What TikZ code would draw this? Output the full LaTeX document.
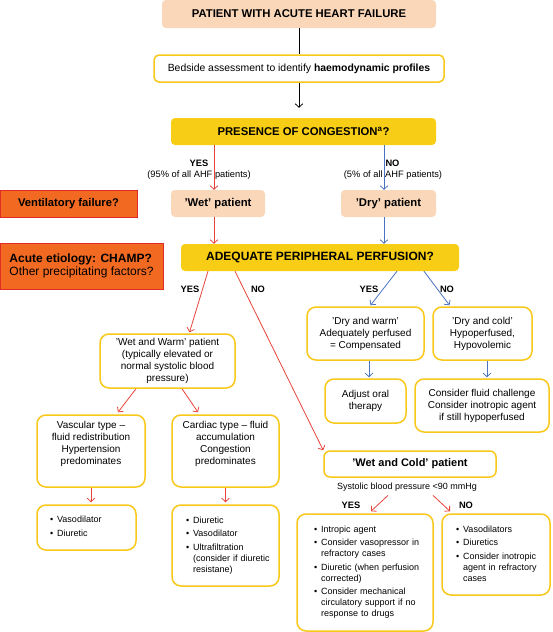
\documentclass[tikz,border=0pt]{standalone}
\usepackage{fontspec}
\setmainfont{Liberation Sans}
\usetikzlibrary{arrows.meta,calc}

\definecolor{peach}{RGB}{251,215,186}
\definecolor{gold}{RGB}{248,205,21}
\definecolor{frame}{RGB}{248,200,26}
\definecolor{alert}{RGB}{242,106,34}
\definecolor{alertline}{RGB}{227,43,37}
\definecolor{redline}{RGB}{232,67,58}
\definecolor{blueline}{RGB}{74,114,192}

\newenvironment{bulletlist}{\begin{tabular}{@{}l@{\hspace{4pt}}l@{}}}{\end{tabular}}

\begin{document}
\begin{tikzpicture}[x=1pt,y=-1pt,>={Straight Barb[length=3.5pt,width=7.5pt]},
    peach node/.style={fill=peach,rounded corners=4pt,inner sep=0pt,font=\fontsize{11.3}{13}\selectfont\bfseries},
    gold node/.style={fill=gold,rounded corners=4pt,inner sep=0pt,font=\fontsize{11.3}{13}\selectfont\bfseries},
    alert node/.style={fill=alert,draw=alertline,line width=1pt,inner sep=0pt,font=\fontsize{11.2}{13}\selectfont\bfseries},
    white node/.style={fill=white,draw=frame,line width=1.5pt,rounded corners=9pt,inner sep=0pt,align=center,font=\fontsize{10}{12}\selectfont},
    list node/.style={white node,align=left,font=\fontsize{9}{11}\selectfont},
    answer text/.style={inner sep=0pt,font=\fontsize{9.3}{11}\selectfont\bfseries},
    note text/.style={inner sep=0pt,font=\fontsize{9.3}{11}\selectfont},
    red arrow/.style={->,draw=redline,line width=0.8pt},
    blue arrow/.style={->,draw=blueline,line width=0.8pt}]

    \useasboundingbox (0,0) rectangle (552,632);

    % top of the chart
    \node[peach node, minimum width=274pt, minimum height=28pt] (heart) at (299,14) {PATIENT WITH ACUTE HEART FAILURE};
    \node[white node, rounded corners=5pt, minimum width=290pt, minimum height=27pt, font=\fontsize{10.4}{12}\selectfont] (bedside) at (299,68.5) {Bedside assessment to identify \textbf{haemodynamic profiles}};
    \node[gold node, minimum width=265pt, minimum height=27pt] (congestion) at (303.5,131.5) {PRESENCE OF CONGESTION\textsuperscript{a}?};

    \node[alert node, minimum width=137pt, minimum height=27pt] (ventilatory) at (68.5,203.5) {Ventilatory failure?};
    \node[peach node, minimum width=94pt, minimum height=27pt] (wet) at (218,203.5) {'Wet' patient};
    \node[peach node, minimum width=95pt, minimum height=27pt] (dry) at (388.5,203.5) {'Dry' patient};

    \node[alert node, minimum width=163pt, minimum height=46pt, align=left, font=\fontsize{12}{13.5}\selectfont] (etiology) at (81.5,266) {\textbf{Acute etiology: CHAMP?}\\Other precipitating factors?};
    \node[gold node, minimum width=278pt, minimum height=27pt, font=\fontsize{12}{14}\selectfont\bfseries] (perfusion) at (320,257.5) {ADEQUATE PERIPHERAL PERFUSION?};

    % profiles
    \node[white node, minimum width=135pt, minimum height=54pt] (warmwet) at (167.5,361) {'Wet and Warm' patient\\(typically elevated or\\normal systolic blood\\pressure)};
    \node[white node, minimum width=117pt, minimum height=53pt] (drywarm) at (365.5,333.5) {'Dry and warm'\\Adequately perfused\\= Compensated};
    \node[white node, minimum width=99pt, minimum height=53pt] (drycold) at (482.5,333.5) {'Dry and cold'\\Hypoperfused,\\Hypovolemic};
    \node[white node, minimum width=81pt, minimum height=44pt] (oral) at (365.5,401) {Adjust oral\\therapy};
    \node[white node, minimum width=134pt, minimum height=53pt] (fluid) at (482,405.5) {Consider fluid challenge\\Consider inotropic agent\\if still hypoperfused};
    \node[white node, minimum width=108pt, minimum height=72pt] (vascular) at (91,451) {Vascular type --\\fluid redistribution\\Hypertension\\predominates\\[4pt]};
    \node[white node, minimum width=107pt, minimum height=72pt] (cardiac) at (225.5,451) {Cardiac type -- fluid\\accumulation\\Congestion\\predominates\\[4pt]};
    \node[white node, rounded corners=6pt, minimum width=172pt, minimum height=26pt, font=\fontsize{11}{13}\selectfont\bfseries] (wetcold) at (410,464) {'Wet and Cold' patient};
    \node[note text, font=\fontsize{9}{11}\selectfont] (sbp) at (407,487) {Systolic blood pressure <90 mmHg};

    % treatments
    \node[list node, minimum width=99pt, minimum height=45pt, text width=73pt] (vasodil) at (86.5,527.5) {\begin{bulletlist}
        \textbullet & Vasodilator\\[2.5pt]
        \textbullet & Diuretic
    \end{bulletlist}};
    \node[list node, minimum width=107pt, minimum height=81pt, text width=79pt] (diuretic) at (225.5,545.5) {\begin{bulletlist}
        \textbullet & Diuretic\\[2.5pt]
        \textbullet & Vasodilator\\[2.5pt]
        \textbullet & Ultrafiltration\\
                    & (consider if diuretic\\
                    & resistane)
    \end{bulletlist}};
    \node[list node, minimum width=136pt, minimum height=117pt, text width=102pt] (yesbox) at (365,572.5) {\begin{bulletlist}
        \textbullet & Intropic agent\\[2.5pt]
        \textbullet & Consider vasopressor in\\
                    & refractory cases\\[2.5pt]
        \textbullet & Diuretic (when perfusion\\
                    & corrected)\\[2.5pt]
        \textbullet & Consider mechanical\\
                    & circulatory support if no\\
                    & response to drugs
    \end{bulletlist}};
    \node[list node, minimum width=108pt, minimum height=81pt, text width=80pt] (nobox) at (496,554.5) {\begin{bulletlist}
        \textbullet & Vasodilators\\[2.5pt]
        \textbullet & Diuretics\\[2.5pt]
        \textbullet & Consider inotropic\\
                    & agent in refractory\\
                    & cases
    \end{bulletlist}};

    % answers
    \node[answer text] (yescong) at (199,163) {YES};
    \node[note text] (wetshare) at (199,175) {(95\% of all AHF patients)};
    \node[answer text] (nocong) at (392.5,163) {NO};
    \node[note text] (dryshare) at (393,175) {(5\% of all AHF patients)};
    \node[answer text] (yeswetperf) at (190,289) {YES};
    \node[answer text] (nowetperf) at (258,289) {NO};
    \node[answer text] (yesdryperf) at (369,289) {YES};
    \node[answer text] (nodryperf) at (447,289) {NO};
    \node[answer text] (yessbp) at (351,505) {YES};
    \node[answer text] (nosbp) at (466,505) {NO};

    % connectors
    \draw[line width=0.8pt] (heart) -- (bedside);
    \draw[->, line width=0.8pt, shorten >=10pt] (bedside.south) -- (bedside.south |- congestion.north);

    \draw[red arrow] ($(wet.north |- congestion.south)+(-4,0)$) -- ($(wet.north)+(-4,0)$);
    \draw[red arrow] ($(wet.south)+(-4,0)$) -- ($(wet.south |- perfusion.north)+(-4,0)$);
    \draw[blue arrow] ($(dry.north |- congestion.south)+(-4.5,0)$) -- ($(dry.north)+(-4.5,0)$);
    \draw[blue arrow] ($(dry.south)+(-4.5,0)$) -- ($(dry.south |- perfusion.north)+(-4.5,0)$);

    \draw[red arrow] ($(perfusion.south)+(-112,0)$) -- ($(warmwet.north)+(22,-1)$);
    \draw[red arrow] ($(perfusion.south)+(-85,0)$) -- (wetcold.north west);
    \draw[blue arrow] ($(perfusion.south)+(77,0)$) -- ($(drywarm.north)+(5,-1)$);
    \draw[blue arrow] ($(perfusion.south)+(104,0)$) -- ($(drycold.north)+(-33,-1)$);

    \draw[red arrow] ($(warmwet.south)+(-31.5,0)$) -- ($(vascular.north)+(27,-2)$);
    \draw[red arrow] ($(warmwet.south)+(14.5,0)$) -- ($(cardiac.north)+(-27.5,-2)$);
    \draw[red arrow] (vascular.south) -- ($(vascular.south |- vasodil.north)+(0,-2)$);
    \draw[red arrow] (cardiac.south) -- ($(diuretic.north)+(0,-2)$);
    \draw[blue arrow] ($(drywarm.south)+(3.5,0)$) -- ($(drywarm.south |- oral.north)+(3.5,-1)$);
    \draw[blue arrow] ($(drycold.south)+(4.5,0)$) -- ($(drycold.south |- fluid.north)+(4.5,-1)$);

    \draw[red arrow] ($(sbp.south)+(-19,4)$) -- ($(yesbox.north)+(6,-2)$);
    \draw[red arrow] ($(sbp.south)+(26,4)$) -- ($(nobox.north)+(-46,-2)$);
\end{tikzpicture}
\end{document}
